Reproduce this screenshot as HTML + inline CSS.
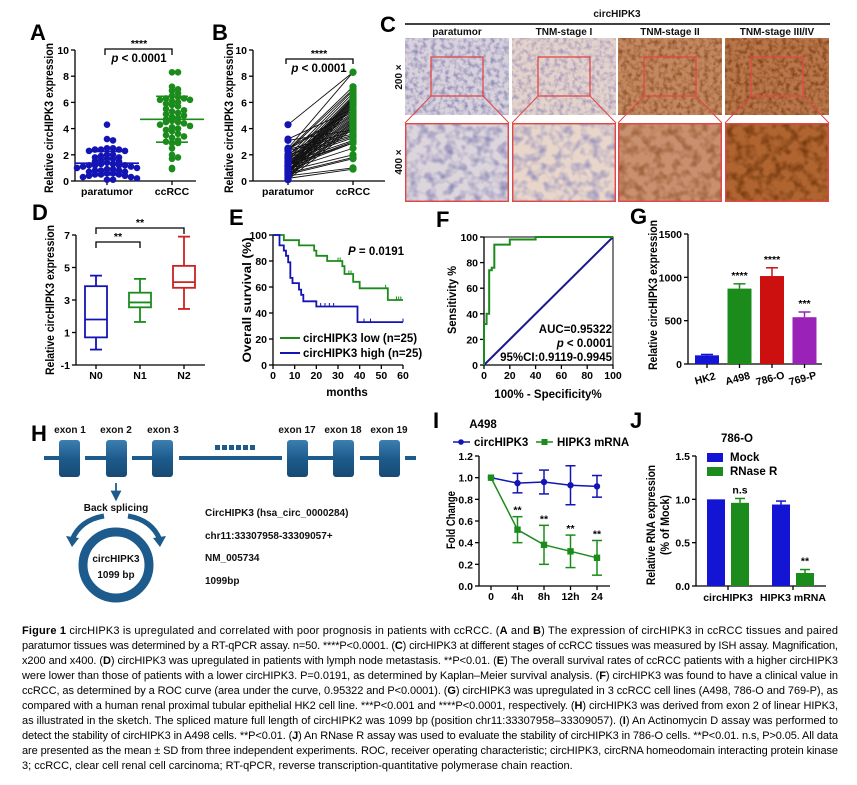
<!DOCTYPE html>
<html><head><meta charset="utf-8">
<style>
html,body{margin:0;padding:0;background:#fff;}
svg{display:block;font-family:"Liberation Sans",sans-serif;}
.tk{font-size:10.5px;font-weight:bold;fill:#000;}
.lab{font-size:22px;font-weight:bold;fill:#000;}
.ttl{font-size:11.5px;font-weight:bold;fill:#000;}
.cap{font-size:11px;fill:#000;}
.hs{font-size:10px;font-weight:bold;fill:#111;}
</style></head>
<body>
<svg id="fig" width="857" height="785" viewBox="0 0 857 785">
<defs>
<filter id="tex" x="0" y="0" width="100%" height="100%">
<feTurbulence type="fractalNoise" baseFrequency="0.22" numOctaves="2" seed="3" result="n"/>
<feColorMatrix in="n" type="matrix" values="0 0 0 0 0  0 0 0 0 0  0 0 0 0 0  2.2 0 0 0 -0.9" result="a"/>
<feComposite in="SourceGraphic" in2="a" operator="in"/>
</filter>
<filter id="tex2" x="0" y="0" width="100%" height="100%">
<feTurbulence type="fractalNoise" baseFrequency="0.11" numOctaves="2" seed="7" result="n"/>
<feColorMatrix in="n" type="matrix" values="0 0 0 0 0  0 0 0 0 0  0 0 0 0 0  2.2 0 0 0 -0.9" result="a"/>
<feComposite in="SourceGraphic" in2="a" operator="in"/>
</filter>
<linearGradient id="exg" x1="0" y1="0" x2="0" y2="1">
<stop offset="0" stop-color="#3c7fb0"/><stop offset="0.5" stop-color="#1d5b8c"/><stop offset="1" stop-color="#174a74"/>
</linearGradient>
<marker id="arr" markerWidth="6" markerHeight="6" refX="3" refY="3" orient="auto"><path d="M0,0 L6,3 L0,6 Z" fill="#1d5b8c"/></marker>
</defs>

<!-- panel labels -->
<text class="lab" x="30" y="40">A</text>
<text class="lab" x="212" y="40">B</text>
<text class="lab" x="380" y="32">C</text>
<text class="lab" x="32" y="220">D</text>
<text class="lab" x="229" y="225">E</text>
<text class="lab" x="436" y="227">F</text>
<text class="lab" x="630" y="224">G</text>
<text class="lab" x="31" y="441">H</text>
<text class="lab" x="433" y="428">I</text>
<text class="lab" x="630" y="428">J</text>

<!-- axis titles -->
<text class="ttl" transform="translate(53,118) rotate(-90)" text-anchor="middle" textLength="150" lengthAdjust="spacingAndGlyphs">Relative circHIPK3 expression</text>
<text class="ttl" transform="translate(233,118) rotate(-90)" text-anchor="middle" textLength="150" lengthAdjust="spacingAndGlyphs">Relative circHIPK3 expression</text>
<text class="ttl" transform="translate(54,300) rotate(-90)" text-anchor="middle" textLength="150" lengthAdjust="spacingAndGlyphs">Relative circHIPK3 expression</text>
<text class="ttl" transform="translate(251,300) rotate(-90)" text-anchor="middle" textLength="125" lengthAdjust="spacingAndGlyphs">Overall survival (%)</text>
<text class="ttl" transform="translate(456,300) rotate(-90)" text-anchor="middle" textLength="68" lengthAdjust="spacingAndGlyphs">Sensitivity %</text>
<text class="ttl" transform="translate(657,295) rotate(-90)" text-anchor="middle" textLength="150" lengthAdjust="spacingAndGlyphs">Relative circHIPK3 expression</text>
<text class="ttl" transform="translate(455,520) rotate(-90)" text-anchor="middle" textLength="58" lengthAdjust="spacingAndGlyphs">Fold Change</text>
<text class="ttl" transform="translate(655,525) rotate(-90)" text-anchor="middle" textLength="120" lengthAdjust="spacingAndGlyphs">Relative RNA expression</text>
<text class="ttl" transform="translate(669,525) rotate(-90)" text-anchor="middle" textLength="60" lengthAdjust="spacingAndGlyphs">(% of Mock)</text>
<text class="ttl" x="347" y="396" text-anchor="middle">months</text>
<text class="ttl" x="548" y="398" text-anchor="middle">100% - Specificity%</text>

<!-- significance A/B -->
<path d="M105,55 V49 H172 V55" fill="none" stroke="#000" stroke-width="1.3"/>
<text x="139" y="47" class="tk" text-anchor="middle">****</text>
<text x="139" y="62" class="ttl" text-anchor="middle"><tspan font-style="italic">p</tspan> &lt; 0.0001</text>
<path d="M286,64 V59 H353 V64" fill="none" stroke="#000" stroke-width="1.3"/>
<text x="319" y="57" class="tk" text-anchor="middle">****</text>
<text x="319" y="72" class="ttl" text-anchor="middle"><tspan font-style="italic">p</tspan> &lt; 0.0001</text>

<!-- D brackets -->
<path d="M96,234 V228 H184 V234" fill="none" stroke="#000" stroke-width="1.3"/>
<text x="140" y="226" class="tk" text-anchor="middle">**</text>
<path d="M96,248 V242 H140 V248" fill="none" stroke="#000" stroke-width="1.3"/>
<text x="118" y="240" class="tk" text-anchor="middle">**</text>

<!-- E annotations -->
<text x="404" y="255" class="ttl" text-anchor="end"><tspan font-style="italic">P</tspan> = 0.0191</text>
<line x1="280" x2="300" y1="338" y2="338" stroke="#1b8c1b" stroke-width="2"/>
<text x="303" y="342" class="ttl">circHIPK3 low (n=25)</text>
<line x1="280" x2="300" y1="353" y2="353" stroke="#1414b4" stroke-width="2"/>
<text x="303" y="357" class="ttl">circHIPK3 high (n=25)</text>

<!-- F annotations -->
<text x="612" y="333" class="ttl" text-anchor="end">AUC=0.95322</text>
<text x="612" y="347" class="ttl" text-anchor="end"><tspan font-style="italic">p</tspan> &lt; 0.0001</text>
<text x="612" y="361" class="ttl" text-anchor="end">95%CI:0.9119-0.9945</text>

<!-- I legend/title -->
<text x="483" y="428" class="ttl" font-size="12.5" text-anchor="middle">A498</text>
<line x1="453" x2="470" y1="442" y2="442" stroke="#1414b4" stroke-width="1.5"/>
<circle cx="461" cy="442" r="2.8" fill="#1414b4"/>
<text x="474" y="446" class="ttl">circHIPK3</text>
<line x1="536" x2="553" y1="442" y2="442" stroke="#1b8c1b" stroke-width="1.5"/>
<rect x="541.5" y="439" width="6" height="6" fill="#1b8c1b"/>
<text x="557" y="446" class="ttl">HIPK3 mRNA</text>

<!-- J legend/title -->
<text x="737" y="442" class="ttl" font-size="12.5" text-anchor="middle">786-O</text>
<rect x="707" y="453" width="16" height="9" fill="#1414d4"/>
<text x="730" y="461" class="ttl">Mock</text>
<rect x="707" y="467" width="16" height="9" fill="#1b8c1b"/>
<text x="730" y="475" class="ttl">RNase R</text>

<!-- Panel C -->
<g id="panelC">
<text x="617" y="17" class="hs" text-anchor="middle">circHIPK3</text>
<line x1="405" x2="830" y1="24" y2="24" stroke="#000" stroke-width="1.5"/>
<text x="457" y="35" class="hs" text-anchor="middle">paratumor</text>
<text x="564" y="35" class="hs" text-anchor="middle">TNM-stage I</text>
<text x="670" y="35" class="hs" text-anchor="middle">TNM-stage II</text>
<text x="777" y="35" class="hs" text-anchor="middle">TNM-stage III/IV</text>
<text class="hs" transform="translate(402,77) rotate(-90)" text-anchor="middle">200 ×</text>
<text class="hs" transform="translate(402,162) rotate(-90)" text-anchor="middle">400 ×</text>
</g>

<!-- Panel H -->
<g>
<line x1="44" x2="416" y1="458" y2="458" stroke="#1d5b8c" stroke-width="4"/>
<g fill="#fff"><rect x="80" y="452" width="5" height="12"/><rect x="127" y="452" width="5" height="12"/><rect x="173" y="452" width="6" height="12"/><rect x="282" y="452" width="5" height="12"/><rect x="354" y="452" width="6" height="12"/><rect x="400" y="452" width="5" height="12"/></g>
<g fill="#1d5b8c"><rect x="215" y="445" width="5" height="5"/><rect x="222" y="445" width="5" height="5"/><rect x="229" y="445" width="5" height="5"/><rect x="236" y="445" width="5" height="5"/><rect x="243" y="445" width="5" height="5"/><rect x="250" y="445" width="5" height="5"/></g>
<rect x="59" y="440" width="21" height="37" rx="3" fill="url(#exg)"/>
<rect x="106" y="440" width="21" height="37" rx="3" fill="url(#exg)"/>
<rect x="152" y="440" width="21" height="37" rx="3" fill="url(#exg)"/>
<rect x="287" y="440" width="21" height="37" rx="3" fill="url(#exg)"/>
<rect x="333" y="440" width="21" height="37" rx="3" fill="url(#exg)"/>
<rect x="379" y="440" width="21" height="37" rx="3" fill="url(#exg)"/>
<text x="70" y="433" class="hs" text-anchor="middle">exon 1</text>
<text x="116" y="433" class="hs" text-anchor="middle">exon 2</text>
<text x="163" y="433" class="hs" text-anchor="middle">exon 3</text>
<text x="297" y="433" class="hs" text-anchor="middle">exon 17</text>
<text x="343" y="433" class="hs" text-anchor="middle">exon 18</text>
<text x="389" y="433" class="hs" text-anchor="middle">exon 19</text>
<line x1="116" y1="483" x2="116" y2="496" stroke="#1d5b8c" stroke-width="1.8" marker-end="url(#arr)"/>
<text x="116" y="511" class="hs" text-anchor="middle">Back splicing</text>
<path d="M104,516 Q80,520 72,540" fill="none" stroke="#1d5b8c" stroke-width="5"/>
<path d="M66,536 L72,547 L79,538 Z" fill="#1d5b8c"/>
<path d="M128,516 Q152,520 160,540" fill="none" stroke="#1d5b8c" stroke-width="5"/>
<path d="M153,538 L160,547 L166,536 Z" fill="#1d5b8c"/>
<circle cx="116" cy="565" r="33" fill="none" stroke="#1d5b8c" stroke-width="9"/>
<text x="116" y="562" class="hs" text-anchor="middle">circHIPK3</text>
<text x="116" y="578" class="hs" text-anchor="middle">1099 bp</text>
<text x="205" y="516" class="hs">CircHIPK3 (hsa_circ_0000284)</text>
<text x="205" y="539" class="hs">chr11:33307958-33309057+</text>
<text x="205" y="561" class="hs">NM_005734</text>
<text x="205" y="584" class="hs">1099bp</text>
</g>

<!-- caption -->
<g>
<text class="cap" x="22" y="634" textLength="816" lengthAdjust="spacing"><tspan font-weight="bold">Figure 1</tspan> circHIPK3 is upregulated and correlated with poor prognosis in patients with ccRCC. (<tspan font-weight="bold">A</tspan> and <tspan font-weight="bold">B</tspan>) The expression of circHIPK3 in ccRCC tissues and paired</text>
<text class="cap" x="22" y="649" textLength="816" lengthAdjust="spacing">paratumor tissues was determined by a RT-qPCR assay. n=50. ****P&lt;0.0001. (<tspan font-weight="bold">C</tspan>) circHIPK3 at different stages of ccRCC tissues was measured by ISH assay. Magnification,</text>
<text class="cap" x="22" y="664" textLength="816" lengthAdjust="spacing">x200 and x400. (<tspan font-weight="bold">D</tspan>) circHIPK3 was upregulated in patients with lymph node metastasis. **P&lt;0.01. (<tspan font-weight="bold">E</tspan>) The overall survival rates of ccRCC patients with a higher circHIPK3</text>
<text class="cap" x="22" y="679" textLength="816" lengthAdjust="spacing">were lower than those of patients with a lower circHIPK3. P=0.0191, as determined by Kaplan–Meier survival analysis. (<tspan font-weight="bold">F</tspan>) circHIPK3 was found to have a clinical value in</text>
<text class="cap" x="22" y="694" textLength="816" lengthAdjust="spacing">ccRCC, as determined by a ROC curve (area under the curve, 0.95322 and P&lt;0.0001). (<tspan font-weight="bold">G</tspan>) circHIPK3 was upregulated in 3 ccRCC cell lines (A498, 786-O and 769-P), as</text>
<text class="cap" x="22" y="709" textLength="816" lengthAdjust="spacing">compared with a human renal proximal tubular epithelial HK2 cell line. ***P&lt;0.001 and ****P&lt;0.0001, respectively. (<tspan font-weight="bold">H</tspan>) circHIPK3 was derived from exon 2 of linear HIPK3,</text>
<text class="cap" x="22" y="724" textLength="816" lengthAdjust="spacing">as illustrated in the sketch. The spliced mature full length of circHIPK2 was 1099 bp (position chr11:33307958–33309057). (<tspan font-weight="bold">I</tspan>) An Actinomycin D assay was performed to</text>
<text class="cap" x="22" y="739" textLength="816" lengthAdjust="spacing">detect the stability of circHIPK3 in A498 cells. **P&lt;0.01. (<tspan font-weight="bold">J</tspan>) An RNase R assay was used to evaluate the stability of circHIPK3 in 786-O cells. **P&lt;0.01. n.s, P&gt;0.05. All data</text>
<text class="cap" x="22" y="754" textLength="816" lengthAdjust="spacing">are presented as the mean ± SD from three independent experiments. ROC, receiver operating characteristic; circHIPK3, circRNA homeodomain interacting protein kinase</text>
<text class="cap" x="22" y="769">3; ccRCC, clear cell renal cell carcinoma; RT-qPCR, reverse transcription-quantitative polymerase chain reaction.</text>
</g>
</svg>

<script>
// ---------- data ----------
const paraVals=[4.3,3.2,3.1,2.5,2.5,2.4,2.4,2.4,2.3,2.3,2.0,2.0,1.9,1.8,1.8,1.7,1.7,1.6,1.5,1.5,1.4,1.3,1.3,1.2,1.2,1.2,1.2,1.1,1.1,1.0,1.0,0.9,0.9,0.8,0.8,0.8,0.7,0.7,0.6,0.6,0.5,0.5,0.5,0.4,0.4,0.3,0.3,0.2,0.1,0.1];
const ccVals=[8.3,8.3,7.2,7.0,6.9,6.7,6.5,6.4,6.3,6.3,6.2,6.2,6.1,6.0,5.9,5.8,5.7,5.5,5.4,5.3,5.2,5.1,5.0,4.9,4.8,4.7,4.6,4.5,4.5,4.4,4.3,4.2,4.1,4.0,3.9,3.8,3.6,3.5,3.4,3.3,3.1,3.0,2.9,2.9,2.5,2.0,1.8,1.7,1.0,0.9];
const abCategories=['paratumor','ccRCC'];
const abTicks=[0,2,4,6,8,10];
const abTickLabels=['0','2','4','6','8','10'];

const dGroups=['N0','N1','N2'];
const dMin=[-0.05,1.65,2.45];
const dQ1=[0.7,2.55,3.75];
const dMed=[1.8,2.85,4.1];
const dQ3=[3.85,3.45,5.1];
const dMax=[4.5,4.3,6.9];
const dTicks=[-1,1,3,5,7];
const dTickLabels=['-1','1','3','5','7'];

const kmLowT=[0,5,12,19,20,25,32,33,37,40,53,60];
const kmLowS=[100,96,92,88,84,80,76,70,64,59,50,50];
const kmHighT=[0,3,5,6,7,8,9,12,13,14,20,39,60];
const kmHighS=[100,92,88,84,79,67,63,58,54,49,45,33,33];
const kmLowCensor=[30,31,35,36,52,53,57,58,59];
const kmHighCensor=[22,24,26,28,42,45,60];
const eYTicks=[0,20,40,60,80,100];
const eXTicks=[0,10,20,30,40,50,60];

const rocFpr=[0,0,2,2,4,4,6,6,8,8,20,20,40,40,100];
const rocTpr=[0,32,32,40,40,74,74,76,76,94,94,98,98,100,100];
const fTicks=[0,20,40,60,80,100];

const gLines=['HK2','A498','786-O','769-P'];
const gVals=[100,870,1015,540];
const gErr=[10,55,95,60];
const gStars=['','****','****','***'];
const gTicks=[0,500,1000,1500];

const iTimes=['0','4h','8h','12h','24'];
const circVals=[1,0.95,0.96,0.93,0.92];
const circErr=[0,0.09,0.11,0.18,0.10];
const mrnaVals=[1,0.52,0.38,0.32,0.26];
const mrnaErr=[0,0.12,0.18,0.15,0.16];
const iStars=['','**','**','**','**'];
const iTicks=[0,0.2,0.4,0.6,0.8,1.0,1.2];
const iTickLabels=['0.0','0.2','0.4','0.6','0.8','1.0','1.2'];

const jGenes=['circHIPK3','HIPK3 mRNA'];
const mockVals=[1.0,0.94];
const mockErr=[0,0.04];
const rnaseVals=[0.96,0.15];
const rnaseErr=[0.05,0.04];
const jStars=['n.s','**'];
const jTicks=[0,0.5,1.0,1.5];
const jTickLabels=['0.0','0.5','1.0','1.5'];

// ---------- helpers ----------
const NS='http://www.w3.org/2000/svg';
const svg=document.getElementById('fig');
function mk(tag,attrs,parent){const e=document.createElementNS(NS,tag);for(const k in attrs)e.setAttribute(k,attrs[k]);(parent||svg).appendChild(e);return e;}
function lin(d0,d1,r0,r1){return v=>r0+(v-d0)*(r1-r0)/(d1-d0);}
const BLUE='#1414b4',GREEN='#1b8c1b',RED='#cc2222';
function yAxis(name,x,sc,ticks,labs){
  const g=mk('g',{});
  
  
  mk('line',{x1:x,x2:x,y1:sc(ticks[0]),y2:sc(ticks[ticks.length-1]),stroke:'#000','stroke-width':1.3},g);
  ticks.forEach((t,i)=>{
    mk('line',{x1:x-4,x2:x,y1:sc(t),y2:sc(t),stroke:'#000','stroke-width':1.3},g);
    const tx=mk('text',{x:x-6,y:sc(t)+4,'text-anchor':'end',class:'tk'},g);
    tx.textContent=labs[i];
  });
}
function xAxisLine(name,x1,x2,y,ticksX){
  const g=mk('g',{});
  
  
  mk('line',{x1:x1,x2:x2,y1:y,y2:y,stroke:'#000','stroke-width':1.3},g);
  ticksX.forEach(tx=>mk('line',{x1:tx,x2:tx,y1:y,y2:y+4,stroke:'#000','stroke-width':1.3},g));
  return g;
}
function xLabel(g,x,y,s,rot){
  const t=mk('text',{x:x,y:y,'text-anchor':'middle',class:'tk'},g);
  if(rot){t.setAttribute('transform','rotate('+rot+','+x+','+(y-4)+')');}
  t.textContent=s;
}
function errBar(g,x,y1,y2,w,col){
  mk('line',{x1:x,x2:x,y1:y1,y2:y2,stroke:col,'stroke-width':1.5},g);
  mk('line',{x1:x-w,x2:x+w,y1:y2,y2:y2,stroke:col,'stroke-width':1.5},g);
}

// ---------- Panel C images ----------
(function(){
  const pc=document.getElementById('panelC');
  const cols=[405,512,618,725], w=104;
  const base1=['#d9d2dc','#e4d3cc','#c48860','#b8764a'];
  const dark1=['#6f6fa8','#8f86b4','#7a3c18','#6b2e0e'];
  const base2=['#ddd5dc','#e8d6cb','#c99070','#b06530'];
  const dark2=['#6c6ca8','#7b7ab8','#8a4a20','#5e2708'];
  cols.forEach((x,i)=>{
    const r1=mk('rect',{x:x,y:38,width:w,height:77,fill:base1[i]},pc);
    
    
    mk('rect',{x:x,y:38,width:w,height:77,fill:dark1[i],filter:'url(#tex)','fill-opacity':0.75},pc);
    const r2=mk('rect',{x:x,y:123,width:w,height:79,fill:base2[i]},pc);
    
    
    mk('rect',{x:x,y:123,width:w,height:79,fill:dark2[i],filter:'url(#tex2)','fill-opacity':0.75},pc);
    mk('rect',{x:x+0.7,y:123.7,width:w-1.4,height:77.6,fill:'none',stroke:'#e04848','stroke-width':1.4},pc);
    const bx=x+w*0.25,bw=w*0.5,by=57,bh=39;
    mk('rect',{x:bx,y:by,width:bw,height:bh,fill:'none',stroke:'#e04848','stroke-width':1.3},pc);
    mk('line',{x1:bx,y1:by+bh,x2:x,y2:123,stroke:'#e04848','stroke-width':1},pc);
    mk('line',{x1:bx+bw,y1:by+bh,x2:x+w,y2:123,stroke:'#e04848','stroke-width':1},pc);
  });
})();

// ---------- Panel A ----------
(function(){
  const y=lin(0,10,181,50);
  yAxis('a-y-axis',75,y,abTicks,abTickLabels);
  const cx=[107,172];
  const g=xAxisLine('a-x-axis',75,196,181,cx);
  abCategories.forEach((c,i)=>xLabel(g,cx[i],195,c));
  [paraVals,ccVals].forEach((vals,k)=>{
    const col=k?GREEN:BLUE;
    const gg=mk('g',{});
    
    
    const bins={};
    vals.forEach(v=>{
      const b=Math.round(v/0.4);const n=bins[b]||0;bins[b]=n+1;
      const off=(n%2?1:-1)*Math.ceil(n/2)*6;
      const d=mk('circle',{cx:cx[k]+off,cy:y(v),r:3.3,fill:col},gg);
      
    });
    const m=vals.reduce((a,b)=>a+b,0)/vals.length;
    const sd=Math.sqrt(vals.reduce((a,b)=>a+(b-m)*(b-m),0)/(vals.length-1));
    mk('line',{x1:cx[k]-32,x2:cx[k]+32,y1:y(m),y2:y(m),stroke:col,'stroke-width':1.6},gg);
    mk('line',{x1:cx[k]-16,x2:cx[k]+16,y1:y(m-sd),y2:y(m-sd),stroke:col,'stroke-width':1.6},gg);
    mk('line',{x1:cx[k]-16,x2:cx[k]+16,y1:y(m+sd),y2:y(m+sd),stroke:col,'stroke-width':1.6},gg);
    mk('line',{x1:cx[k],x2:cx[k],y1:y(m-sd),y2:y(m+sd),stroke:col,'stroke-width':1.6},gg);
  });
})();

// ---------- Panel B ----------
(function(){
  const y=lin(0,10,181,50);
  yAxis('b-y-axis',253,y,abTicks,abTickLabels);
  const cx=[288,353];
  const g=xAxisLine('b-x-axis',253,385,181,cx);
  abCategories.forEach((c,i)=>xLabel(g,cx[i],195,c));
  const gl=mk('g',{});
  
  
  paraVals.forEach((v,i)=>{
    const w=ccVals[(i*17)%ccVals.length];
    mk('line',{x1:cx[0],y1:y(v),x2:cx[1],y2:y(w),stroke:'#111','stroke-width':0.9},gl);
  });
  paraVals.forEach(v=>{
    const d=mk('circle',{cx:cx[0],cy:y(v),r:3.6,fill:BLUE});
    
  });
  ccVals.forEach(v=>{
    const d=mk('circle',{cx:cx[1],cy:y(v),r:3.6,fill:GREEN});
    
  });
})();

// ---------- Panel D ----------
(function(){
  const y=lin(-1,7,365,235);
  yAxis('d-y-axis',76,y,dTicks,dTickLabels);
  const cx=dGroups.map((_,i)=>96+i*44);
  const g=xAxisLine('d-x-axis',76,205,365,cx);
  dGroups.forEach((c,i)=>xLabel(g,cx[i],379,c));
  const cols=[BLUE,GREEN,RED];
  dGroups.forEach((c,i)=>{
    const gg=mk('g',{fill:'none',stroke:cols[i],'stroke-width':1.8});
    
    
    const x=cx[i],hw=11;
    mk('rect',{x:x-hw,y:y(dQ3[i]),width:2*hw,height:y(dQ1[i])-y(dQ3[i])},gg);
    mk('line',{x1:x-hw,x2:x+hw,y1:y(dMed[i]),y2:y(dMed[i])},gg);
    mk('line',{x1:x,x2:x,y1:y(dQ3[i]),y2:y(dMax[i])},gg);
    mk('line',{x1:x,x2:x,y1:y(dQ1[i]),y2:y(dMin[i])},gg);
    mk('line',{x1:x-6,x2:x+6,y1:y(dMax[i]),y2:y(dMax[i])},gg);
    mk('line',{x1:x-6,x2:x+6,y1:y(dMin[i]),y2:y(dMin[i])},gg);
  });
})();

// ---------- Panel E ----------
(function(){
  const y=lin(0,100,365,235), x=lin(0,60,273,403);
  yAxis('e-y-axis',273,y,eYTicks,eYTicks.map(String));
  const g=xAxisLine('e-x-axis',273,403,365,eXTicks.map(x));
  eXTicks.forEach(t=>xLabel(g,x(t),379,String(t)));
  function step(T,S,col,name,cens){
    let d='M'+x(T[0])+','+y(S[0]);
    for(let i=1;i<T.length;i++){d+=' H'+x(T[i])+' V'+y(S[i]);}
    const p=mk('path',{d:d,fill:'none',stroke:col,'stroke-width':1.8});
    
    
    cens.forEach(t=>{
      let s=S[0];for(let i=0;i<T.length;i++){if(T[i]<=t)s=S[i];}
      mk('line',{x1:x(t),x2:x(t),y1:y(s)-3.5,y2:y(s),stroke:col,'stroke-width':1});
    });
  }
  step(kmLowT,kmLowS,GREEN,'km-low-curve',kmLowCensor);
  step(kmHighT,kmHighS,BLUE,'km-high-curve',kmHighCensor);
})();

// ---------- Panel F ----------
(function(){
  const y=lin(0,100,365,237), x=lin(0,100,484,613);
  yAxis('f-y-axis',484,y,fTicks,fTicks.map(String));
  const g=xAxisLine('f-x-axis',484,613,365,fTicks.map(x));
  fTicks.forEach(t=>xLabel(g,x(t),379,String(t)));
  const frame=mk('path',{d:'M'+x(0)+','+y(100)+' H'+x(100)+' V'+y(0),fill:'none',stroke:'#000','stroke-width':1});
  
  const diag=mk('line',{x1:x(0),y1:y(0),x2:x(100),y2:y(100),stroke:'#1a1a8c','stroke-width':2});
  
  const pts=rocFpr.map((f,i)=>x(f)+','+y(rocTpr[i])).join(' ');
  const roc=mk('polyline',{points:pts,fill:'none',stroke:GREEN,'stroke-width':2});
  
  
})();

// ---------- Panel G ----------
(function(){
  const y=lin(0,1500,364,234);
  yAxis('g-y-axis',688,y,gTicks,gTicks.map(String));
  const cx=gLines.map((_,i)=>707+i*32.5);
  const g=xAxisLine('g-x-axis',688,822,364,cx);
  gLines.forEach((c,i)=>xLabel(g,cx[i]-2,382,c,-15));
  const cols=['#1414d4',GREEN,'#cc1010','#9b22b8'];
  gLines.forEach((c,i)=>{
    const gg=mk('g',{});
    
    
    errBar(gg,cx[i],y(gVals[i]),y(gVals[i]+gErr[i]),6,cols[i]);
    mk('rect',{x:cx[i]-12,y:y(gVals[i]),width:24,height:364-y(gVals[i]),fill:cols[i]},gg);
    const t=mk('text',{x:cx[i],y:y(gVals[i]+gErr[i])-5,'text-anchor':'middle',class:'tk','font-size':9},gg);
    t.textContent=gStars[i];
  });
})();

// ---------- Panel I ----------
(function(){
  const y=lin(0,1.2,586,456);
  yAxis('i-y-axis',479,y,iTicks,iTickLabels);
  const cx=iTimes.map((_,i)=>491+i*26.5);
  const g=xAxisLine('i-x-axis',479,610,586,cx);
  iTimes.forEach((c,i)=>xLabel(g,cx[i],600,c));
  [[circVals,circErr,BLUE,'circ-line'],[mrnaVals,mrnaErr,GREEN,'mrna-line']].forEach(([v,e,col,name],k)=>{
    const gg=mk('g',{});
    
    
    v.forEach((val,i)=>{
      if(e[i]>0){
        mk('line',{x1:cx[i],x2:cx[i],y1:y(val-e[i]),y2:y(val+e[i]),stroke:col,'stroke-width':1.5},gg);
        mk('line',{x1:cx[i]-5,x2:cx[i]+5,y1:y(val-e[i]),y2:y(val-e[i]),stroke:col,'stroke-width':1.5},gg);
        mk('line',{x1:cx[i]-5,x2:cx[i]+5,y1:y(val+e[i]),y2:y(val+e[i]),stroke:col,'stroke-width':1.5},gg);
      }
    });
    mk('polyline',{points:v.map((val,i)=>cx[i]+','+y(val)).join(' '),fill:'none',stroke:col,'stroke-width':1.5},gg);
    v.forEach((val,i)=>{
      if(k===0) mk('circle',{cx:cx[i],cy:y(val),r:3.2,fill:col},gg);
      else mk('rect',{x:cx[i]-3.2,y:y(val)-3.2,width:6.4,height:6.4,fill:col},gg);
    });
  });
  iStars.forEach((s,i)=>{
    if(!s)return;
    const t=mk('text',{x:cx[i],y:y(mrnaVals[i]+mrnaErr[i])-3,'text-anchor':'middle',class:'tk','font-size':10});
    
    t.textContent=s;
  });
})();

// ---------- Panel J ----------
(function(){
  const y=lin(0,1.5,586,456);
  yAxis('j-y-axis',696,y,jTicks,jTickLabels);
  const centers=jGenes.map((_,i)=>728+i*65);
  const g=xAxisLine('j-x-axis',696,826,586,centers);
  jGenes.forEach((c,i)=>xLabel(g,centers[i],601,c));
  jGenes.forEach((c,i)=>{
    const gg=mk('g',{});
    
    
    const xm=centers[i]-12, xr=centers[i]+12;
    if(mockErr[i]>0) errBar(gg,xm,y(mockVals[i]),y(mockVals[i]+mockErr[i]),5,'#1414d4');
    mk('rect',{x:xm-9,y:y(mockVals[i]),width:18,height:586-y(mockVals[i]),fill:'#1414d4'},gg);
    if(rnaseErr[i]>0) errBar(gg,xr,y(rnaseVals[i]),y(rnaseVals[i]+rnaseErr[i]),5,GREEN);
    mk('rect',{x:xr-9,y:y(rnaseVals[i]),width:18,height:586-y(rnaseVals[i]),fill:GREEN},gg);
    const t=mk('text',{x:xr,y:y(rnaseVals[i]+rnaseErr[i])-5,'text-anchor':'middle',class:'tk','font-size':9.5},gg);
    t.textContent=jStars[i];
  });
})();
</script>
</body></html>
